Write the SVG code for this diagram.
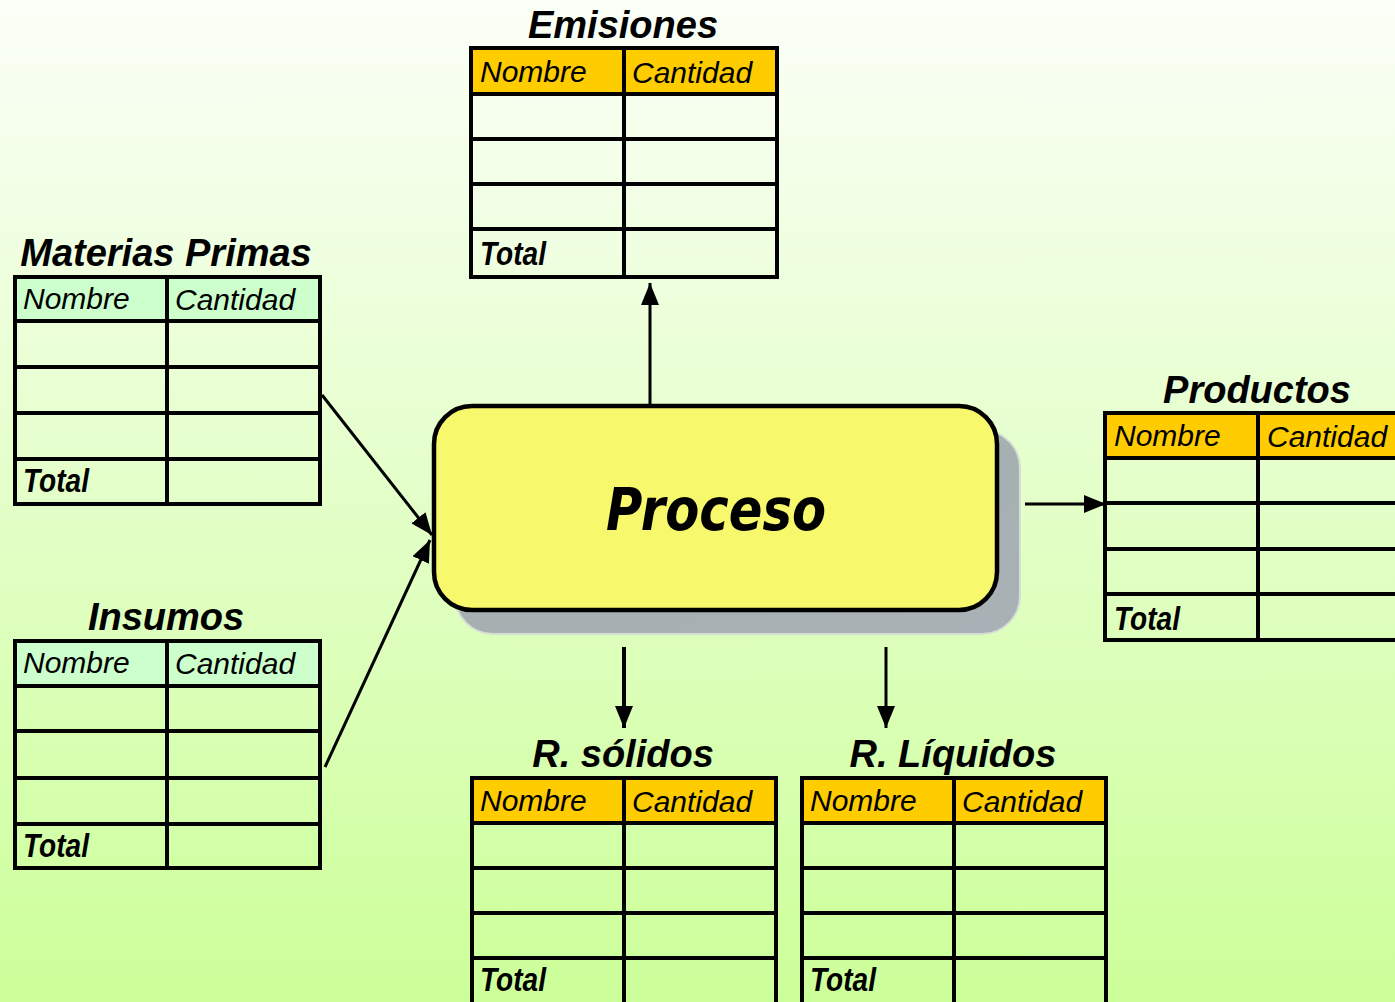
<svg xmlns="http://www.w3.org/2000/svg" width="1395" height="1002" viewBox="0 0 1395 1002">
  <defs>
    <linearGradient id="bg" x1="0" y1="0" x2="0" y2="1">
      <stop offset="0" stop-color="#fbfff8"/>
      <stop offset="1" stop-color="#ccff99"/>
    </linearGradient>
    <linearGradient id="shadowFill" x1="0" y1="0" x2="1" y2="1">
      <stop offset="0" stop-color="#a3afac"/>
      <stop offset="1" stop-color="#a9b1b6"/>
    </linearGradient>
    <marker id="arrow" markerUnits="userSpaceOnUse" markerWidth="22" markerHeight="18" refX="22" refY="9" orient="auto">
      <path d="M0,0 L22,9 L0,18 Z" fill="#000"/>
    </marker>
    <style>
      .grid { fill: none; stroke: #000; stroke-width: 4; stroke-linecap: square; }
      .hdr-orange { fill: #ffcc00; }
      .hdr-green { fill: #ccffcc; }
      .title { font-family: "Liberation Sans", Arial, sans-serif; font-weight: bold; font-style: italic; font-size: 38px; fill: #000; text-anchor: middle; }
      .col { font-family: "Liberation Sans", Arial, sans-serif; font-style: italic; font-size: 30px; fill: #000; }
      .total { font-family: "Liberation Sans", Arial, sans-serif; font-weight: bold; font-style: italic; font-size: 34px; fill: #000; }
      .conn { stroke: #000; fill: none; marker-end: url(#arrow); }
    </style>
  </defs>

  <rect x="0" y="0" width="1395" height="1002" fill="url(#bg)"/>

  <!-- Emisiones -->
  <g id="emisiones">
    <text class="title" x="623" y="38">Emisiones</text>
    <rect class="hdr-orange" x="471" y="48" width="306" height="46"/>
    <path class="grid" d="M471,48 H777 V277 H471 Z M624,48 V277 M471,94 H777 M471,139 H777 M471,184 H777 M471,229 H777"/>
    <text class="col" x="480" y="82">Nombre</text>
    <text class="col" x="632" y="83">Cantidad</text>
    <text class="total" x="480" y="265" textLength="66" lengthAdjust="spacingAndGlyphs">Total</text>
  </g>

  <!-- Materias Primas -->
  <g id="materias-primas">
    <text class="title" x="166" y="266">Materias Primas</text>
    <rect class="hdr-green" x="15" y="277" width="305" height="44"/>
    <path class="grid" d="M15,277 H320 V504 H15 Z M167,277 V504 M15,321 H320 M15,367 H320 M15,413 H320 M15,459 H320"/>
    <text class="col" x="23" y="309">Nombre</text>
    <text class="col" x="175" y="310">Cantidad</text>
    <text class="total" x="23" y="492" textLength="66" lengthAdjust="spacingAndGlyphs">Total</text>
  </g>

  <!-- Insumos -->
  <g id="insumos">
    <text class="title" x="166" y="630">Insumos</text>
    <rect class="hdr-green" x="15" y="641" width="305" height="45"/>
    <path class="grid" d="M15,641 H320 V868 H15 Z M167,641 V868 M15,686 H320 M15,731 H320 M15,778 H320 M15,824 H320"/>
    <text class="col" x="23" y="673">Nombre</text>
    <text class="col" x="175" y="674">Cantidad</text>
    <text class="total" x="23" y="857" textLength="66" lengthAdjust="spacingAndGlyphs">Total</text>
  </g>

  <!-- Proceso -->
  <g id="proceso">
    <rect x="455" y="430" width="565" height="204" rx="38" fill="url(#shadowFill)" stroke="#d6ded6" stroke-width="2"/>
    <rect x="434" y="406" width="563" height="204" rx="38" fill="#f8f86c" stroke="#000" stroke-width="4.5"/>
    <text x="716" y="530" text-anchor="middle" font-family="'DejaVu Sans', Verdana, sans-serif" font-weight="bold" font-style="italic" font-size="58" textLength="220" lengthAdjust="spacingAndGlyphs" fill="#000">Proceso</text>
  </g>

  <!-- Productos -->
  <g id="productos">
    <text class="title" x="1257" y="403">Productos</text>
    <rect class="hdr-orange" x="1105" y="413" width="306" height="45"/>
    <path class="grid" d="M1105,413 H1411 V640 H1105 Z M1258,413 V640 M1105,458 H1411 M1105,503 H1411 M1105,549 H1411 M1105,594 H1411"/>
    <text class="col" x="1114" y="446">Nombre</text>
    <text class="col" x="1267" y="447">Cantidad</text>
    <text class="total" x="1114" y="630" textLength="66" lengthAdjust="spacingAndGlyphs">Total</text>
  </g>

  <!-- R. sólidos -->
  <g id="r-solidos">
    <text class="title" x="623" y="767">R. sólidos</text>
    <rect class="hdr-orange" x="472" y="778" width="304" height="45"/>
    <path class="grid" d="M472,778 H776 V1004 H472 Z M624,778 V1004 M472,823 H776 M472,868 H776 M472,913 H776 M472,958 H776"/>
    <text class="col" x="480" y="811">Nombre</text>
    <text class="col" x="632" y="812">Cantidad</text>
    <text class="total" x="480" y="991" textLength="66" lengthAdjust="spacingAndGlyphs">Total</text>
  </g>

  <!-- R. Líquidos -->
  <g id="r-liquidos">
    <text class="title" x="953" y="767">R. Líquidos</text>
    <rect class="hdr-orange" x="802" y="778" width="304" height="45"/>
    <path class="grid" d="M802,778 H1106 V1004 H802 Z M954,778 V1004 M802,823 H1106 M802,868 H1106 M802,913 H1106 M802,958 H1106"/>
    <text class="col" x="810" y="811">Nombre</text>
    <text class="col" x="962" y="812">Cantidad</text>
    <text class="total" x="810" y="991" textLength="66" lengthAdjust="spacingAndGlyphs">Total</text>
  </g>

  <!-- Connectors -->
  <g id="connectors">
    <line class="conn" x1="650" y1="405" x2="650" y2="283" stroke-width="3"/>
    <line class="conn" x1="322" y1="395" x2="432" y2="535" stroke-width="3"/>
    <line class="conn" x1="325" y1="767" x2="430" y2="540" stroke-width="3"/>
    <line class="conn" x1="1025" y1="504" x2="1106" y2="504" stroke-width="3"/>
    <line class="conn" x1="624" y1="647" x2="624" y2="728" stroke-width="4"/>
    <line class="conn" x1="886" y1="647" x2="886" y2="728" stroke-width="3"/>
  </g>
</svg>
